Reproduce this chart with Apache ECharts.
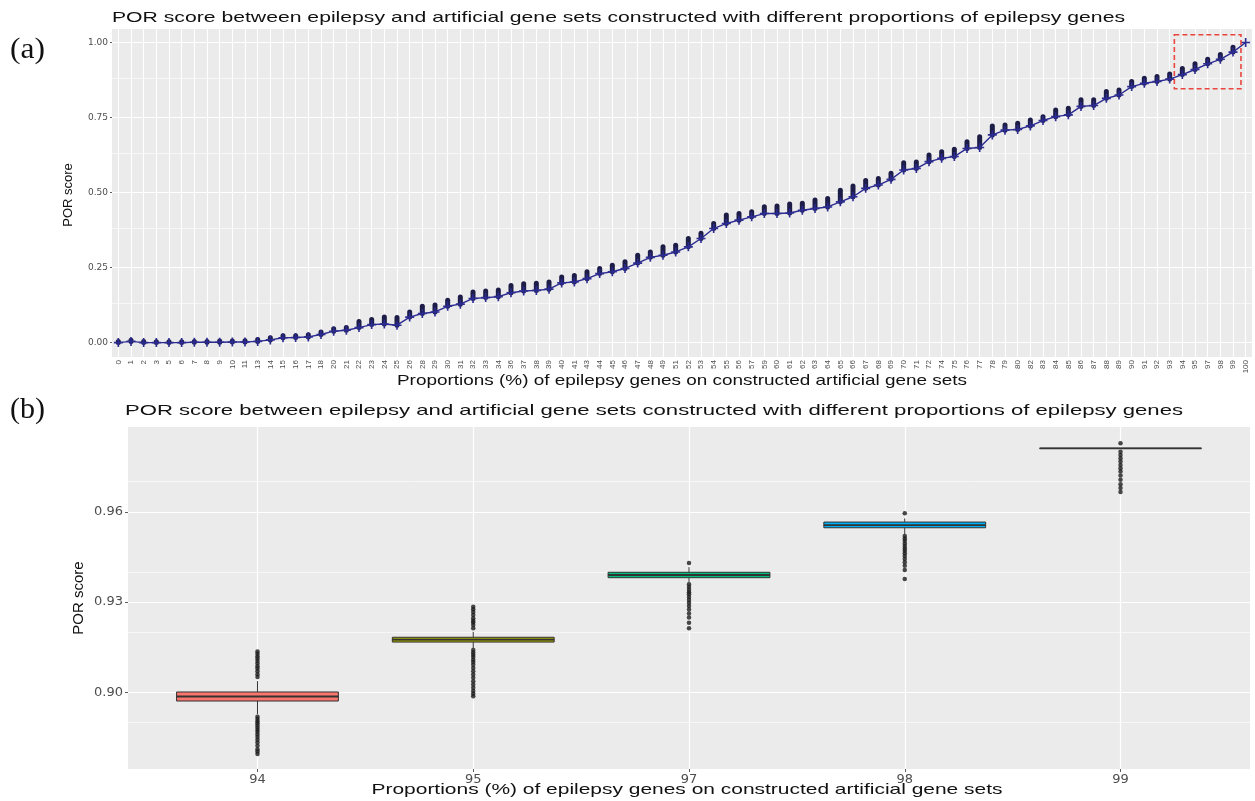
<!DOCTYPE html>
<html>
<head>
<meta charset="utf-8">
<title>POR score between epilepsy and artificial gene sets</title>
<script src="https://cdn.jsdelivr.net/npm/echarts@6.0.0/dist/echarts.min.js"></script>
<style>
  html, body { margin: 0; padding: 0; background: #ffffff; }
  #chart { width: 1255px; height: 801px; }
</style>
</head>
<body>
<div id="chart"></div>
<script>
// ---------- Panel (a): every proportion of epilepsy genes ----------
const proportions = ['0','1','2','3','5','6','7','8','9','10',
  '11','13','14','15','16','17','18','20','21','22',
  '23','24','25','26','28','29','30','31','32','33',
  '34','36','37','38','39','40','41','43','44','45',
  '46','47','48','49','51','52','53','54','55','56',
  '57','59','60','61','62','63','64','65','66','67',
  '68','69','70','71','72','74','75','76','77','78',
  '79','80','82','83','84','85','86','87','88','89',
  '90','91','92','93','94','95','97','98','99','100'];

// median POR score of each proportion (line with + markers)
const medianPOR = [0.000,0.004,0.000,0.000,0.000,0.000,0.001,0.001,0.001,0.002,
  0.002,0.004,0.009,0.016,0.017,0.019,0.027,0.038,0.041,0.050,
  0.060,0.062,0.058,0.085,0.097,0.102,0.121,0.128,0.147,0.150,
  0.153,0.166,0.172,0.174,0.178,0.199,0.202,0.213,0.230,0.236,
  0.247,0.265,0.284,0.291,0.302,0.319,0.347,0.380,0.397,0.408,
  0.419,0.430,0.430,0.432,0.441,0.447,0.452,0.469,0.486,0.514,
  0.525,0.544,0.575,0.580,0.603,0.614,0.620,0.647,0.650,0.692,
  0.708,0.710,0.722,0.740,0.753,0.759,0.787,0.790,0.814,0.825,
  0.853,0.864,0.870,0.878,0.893,0.910,0.929,0.944,0.968,1.000];

// highest outlying POR score of each proportion (top of the dark column)
const topPOR = [0.004,0.008,0.004,0.003,0.003,0.003,0.004,0.004,0.005,0.005,
  0.006,0.010,0.016,0.023,0.023,0.026,0.035,0.046,0.050,0.070,
  0.077,0.085,0.084,0.102,0.121,0.125,0.141,0.152,0.169,0.172,
  0.175,0.190,0.196,0.198,0.202,0.219,0.224,0.236,0.247,0.258,
  0.269,0.291,0.302,0.319,0.324,0.347,0.364,0.397,0.425,0.430,
  0.436,0.453,0.455,0.462,0.464,0.475,0.480,0.508,0.522,0.540,
  0.547,0.564,0.599,0.602,0.625,0.636,0.644,0.669,0.686,0.722,
  0.725,0.731,0.742,0.753,0.775,0.781,0.809,0.809,0.837,0.842,
  0.870,0.881,0.887,0.895,0.913,0.929,0.944,0.960,0.984,1.000];

const yTicksA = [0, 0.25, 0.5, 0.75, 1];
const yMinorA = [0.125, 0.375, 0.625, 0.875];

// ---------- Panel (b): close-up of the highest proportions ----------
const zoomProportions = ['94', '95', '97', '98', '99'];
// [lower whisker, Q1, median, Q3, upper whisker]
const boxStats = [
  [0.8927, 0.8971, 0.8986, 0.9001, 0.9037],
  [0.9147, 0.9167, 0.9175, 0.9183, 0.9201],
  [0.9366, 0.9381, 0.9390, 0.9399, 0.9416],
  [0.9526, 0.9547, 0.9556, 0.9566, 0.9578],
  [0.9811, 0.9811, 0.9811, 0.9811, 0.9811]
];
const outliers94 = [0.9136,0.9128,0.9120,0.9112,0.9104,0.9096,0.9087,0.9079,0.9070,0.9060,0.9051,
  0.8919,0.8911,0.8904,0.8897,0.8890,0.8882,0.8875,0.8868,0.8860,0.8851,0.8842,0.8833,0.8822,0.8811,0.8803,0.8795];
const outliers95 = [0.9284,0.9276,0.9267,0.9257,0.9246,0.9238,0.9232,0.9224,0.9213,
  0.9141,0.9132,0.9125,0.9117,0.9108,0.9101,0.9092,0.9081,0.9070,0.9059,0.9048,0.9037,0.9026,0.9015,0.9004,0.8995,0.8987];
const outliers97 = [0.9430,
  0.9359,0.9350,0.9341,0.9333,0.9326,0.9317,0.9308,0.9298,0.9287,0.9275,0.9262,0.9249,0.9231,0.9213];
const outliers98 = [0.9595,
  0.9520,0.9511,0.9504,0.9495,0.9486,0.9478,0.9471,0.9462,0.9453,0.9443,0.9432,0.9421,0.9407,0.9377];
const outliers99 = [0.9828,
  0.9800,0.9789,0.9778,0.9767,0.9756,0.9745,0.9734,0.9721,0.9707,0.9692,0.9679,0.9666];
const outliersB = [outliers94, outliers95, outliers97, outliers98, outliers99];

const yTicksB = [0.90, 0.93, 0.96];
const yMinorB = [0.885, 0.915, 0.945, 0.975];

// highlighted range of panel (a) that panel (b) enlarges
const focusFrom = '94', focusTo = '99';
const focusTop = 1.026, focusBottom = 0.846;

// ---------- texts ----------
const chartTitle = 'POR score between epilepsy and artificial gene sets constructed with different proportions of epilepsy genes';
const xName = 'Proportions (%) of epilepsy genes on constructed artificial gene sets';
const yName = 'POR score';

// ---------- styles ----------
const boxColors = ['#F8766D', '#A3A500', '#00BF7D', '#00B0F6', '#E76BF3'];
const panelBg = '#EBEBEB';
const tickColor = '#4D4D4D';
const sans = '"Liberation Sans", Arial, Helvetica, sans-serif';
const serif = '"Liberation Serif", "Times New Roman", serif';
const plusSymbol = 'path://M0,4.1H10V5.9H0Z M4.1,0H5.9V10H4.1Z';

const chart = echarts.init(document.getElementById('chart'), null, { renderer: 'canvas' });

// white grid lines drawn through the axes' own scales
function gridLines(values, key, width) {
  return values.map(v => ({ [key]: v, lineStyle: { width: width } }));
}
function lineLayer(xi, yi, data) {
  return {
    type: 'line', xAxisIndex: xi, yAxisIndex: yi, data: [], silent: true, z: 1,
    markLine: {
      silent: true, z: 1, symbol: ['none', 'none'], label: { show: false },
      animation: false, emphasis: { disabled: true },
      lineStyle: { color: '#ffffff', type: 'solid', width: 1 },
      data: data
    }
  };
}

// text stretched horizontally to a given width
const measureCtx = document.createElement('canvas').getContext('2d');
function textEl(id, text, font, x, y, align, width, rotation) {
  measureCtx.font = font;
  const sx = width ? width / measureCtx.measureText(text).width : 1;
  return {
    id: id, type: 'text', x: x, y: y, rotation: rotation || 0,
    scaleX: sx, scaleY: 1, silent: true, z: 10,
    style: {
      text: text, font: font, fill: '#111111',
      align: align, textAlign: align, verticalAlign: 'middle', textVerticalAlign: 'middle'
    }
  };
}

const scatterB = [];
outliersB.forEach((list, i) => list.forEach(v => scatterB.push([zoomProportions[i], v])));

const option = {
  animation: false,
  backgroundColor: '#ffffff',
  grid: [
    { left: 112, right: 3, top: 29, height: 328, show: true, backgroundColor: panelBg, borderWidth: 0, outerBoundsMode: 'none' },
    { left: 128, right: 5, top: 427, height: 342, show: true, backgroundColor: panelBg, borderWidth: 0, outerBoundsMode: 'none' },
    { left: 149.6, right: 26.6, top: 427, height: 342, show: false, outerBoundsMode: 'none' }
  ],
  xAxis: [
    {
      gridIndex: 0, type: 'category', data: proportions, boundaryGap: true,
      axisLine: { show: false },
      axisTick: { show: true, interval: 0, alignWithLabel: true, length: 2, lineStyle: { color: '#333333', width: 0.8 } },
      axisLabel: { interval: 0, rotate: 90, fontSize: 8, fontFamily: sans, color: tickColor, margin: 3 },
      splitLine: { show: false }
    },
    { gridIndex: 1, type: 'value', min: 0, max: 1, show: false },
    {
      gridIndex: 2, type: 'category', data: zoomProportions, boundaryGap: true,
      axisLine: { show: false },
      axisTick: { show: true, alignWithLabel: true, length: 3, lineStyle: { color: '#333333', width: 0.8 } },
      axisLabel: { fontSize: 13, fontFamily: '"DejaVu Sans", sans-serif', color: tickColor, margin: 4 },
      splitLine: { show: false }
    }
  ],
  yAxis: [
    {
      gridIndex: 0, type: 'value', min: -0.048, max: 1.045,
      axisLine: { show: false },
      axisTick: { show: true, length: 2, customValues: yTicksA, lineStyle: { color: '#333333', width: 0.8 } },
      axisLabel: { customValues: yTicksA, formatter: v => v.toFixed(2), fontSize: 9, fontFamily: '"DejaVu Sans", sans-serif', color: tickColor, margin: 4 },
      splitLine: { show: false }
    },
    {
      gridIndex: 1, type: 'value', min: 0.8745, max: 0.9882,
      axisLine: { show: false },
      axisTick: { show: true, length: 3, customValues: yTicksB, lineStyle: { color: '#333333', width: 0.8 } },
      axisLabel: { customValues: yTicksB, formatter: v => v.toFixed(2), fontSize: 13, fontFamily: '"DejaVu Sans", sans-serif', color: tickColor, margin: 5 },
      splitLine: { show: false }
    },
    { gridIndex: 2, type: 'value', min: 0.8745, max: 0.9882, show: false }
  ],
  series: [
    // panel (a) grid
    lineLayer(0, 0, [].concat(
      gridLines(yMinorA, 'yAxis', 0.6),
      gridLines(yTicksA, 'yAxis', 1.2),
      gridLines(proportions, 'xAxis', 1.1)
    )),
    // panel (b) grid
    lineLayer(1, 1, [].concat(
      gridLines(yMinorB, 'yAxis', 0.6),
      gridLines(yTicksB, 'yAxis', 1.2)
    )),
    lineLayer(2, 2, gridLines(zoomProportions, 'xAxis', 1.2)),

    // panel (a): spread of the scores at each proportion
    {
      type: 'custom', xAxisIndex: 0, yAxisIndex: 0, z: 3, silent: true,
      data: proportions.map((p, i) => [i, medianPOR[i], topPOR[i]]),
      encode: { x: 0, y: [1, 2] },
      renderItem: function (params, api) {
        const i = api.value(0);
        const p1 = api.coord([i, api.value(1)]);
        const p2 = api.coord([i, api.value(2)]);
        return {
          type: 'line',
          shape: { x1: p1[0], y1: p1[1], x2: p2[0], y2: p2[1] },
          style: { stroke: '#1D1D48', lineWidth: 5, lineCap: 'round' }
        };
      }
    },
    // panel (a): medians joined by a line
    {
      type: 'line', xAxisIndex: 0, yAxisIndex: 0, z: 4, silent: true,
      data: medianPOR,
      symbol: plusSymbol, symbolSize: 9, showAllSymbol: true,
      itemStyle: { color: '#2B2B92' },
      lineStyle: { color: '#2B2B92', width: 1.4 }
    },

    // panel (b): box plots
    {
      type: 'custom', xAxisIndex: 2, yAxisIndex: 2, z: 3, silent: true,
      data: zoomProportions.map((p, i) => [i].concat(boxStats[i])),
      encode: { x: 0, y: [1, 2, 3, 4, 5] },
      renderItem: function (params, api) {
        const i = api.value(0);
        const half = api.size([1, 0])[0] * 0.75 / 2;
        const lo = api.coord([i, api.value(1)]);
        const cx = lo[0];
        const yQ1 = api.coord([i, api.value(2)])[1];
        const yMed = api.coord([i, api.value(3)])[1];
        const yQ3 = api.coord([i, api.value(4)])[1];
        const yHi = api.coord([i, api.value(5)])[1];
        return {
          type: 'group',
          children: [
            { type: 'line', shape: { x1: cx, y1: lo[1], x2: cx, y2: yQ1 }, style: { stroke: '#333333', lineWidth: 1 } },
            { type: 'line', shape: { x1: cx, y1: yQ3, x2: cx, y2: yHi }, style: { stroke: '#333333', lineWidth: 1 } },
            { type: 'rect', shape: { x: cx - half, y: yQ3, width: 2 * half, height: yQ1 - yQ3 },
              style: { fill: boxColors[i], stroke: '#333333', lineWidth: 1 } },
            { type: 'line', shape: { x1: cx - half, y1: yMed, x2: cx + half, y2: yMed }, style: { stroke: '#333333', lineWidth: 1.8 } }
          ]
        };
      }
    },
    // panel (b): outliers
    {
      type: 'scatter', xAxisIndex: 2, yAxisIndex: 2, z: 4, silent: true,
      data: scatterB, symbol: 'circle', symbolSize: 4.5,
      itemStyle: { color: '#1A1A1A' }
    }
  ],
  graphic: {
    elements: [
      textEl('tagA', '(a)', '30px ' + serif, 10, 50, 'left', 35),
      textEl('titleA', chartTitle, '15px ' + sans, 112, 18, 'left', 1013),
      textEl('xNameA', xName, '15px ' + sans, 682, 381, 'center', 570),
      textEl('yNameA', yName, '13px ' + sans, 68, 195, 'center', 0, Math.PI / 2),
      textEl('tagB', '(b)', '30px ' + serif, 10, 410, 'left', 35),
      textEl('titleB', chartTitle, '15px ' + sans, 125, 411, 'left', 1058),
      textEl('xNameB', xName, '15px ' + sans, 687, 790, 'center', 631),
      textEl('yNameB', yName, '15px ' + sans, 79, 598, 'center', 0, Math.PI / 2)
    ]
  }
};

chart.setOption(option);

// dashed frame around the proportions enlarged in panel (b)
const band = chart.convertToPixel({ xAxisIndex: 0 }, '1') - chart.convertToPixel({ xAxisIndex: 0 }, '0');
const pFrom = chart.convertToPixel({ gridIndex: 0 }, [focusFrom, focusTop]);
const pTo = chart.convertToPixel({ gridIndex: 0 }, [focusTo, focusBottom]);
const pad = band * 0.63;
chart.setOption({
  graphic: {
    elements: [{
      id: 'focusFrame', type: 'rect', silent: true, z: 9,
      shape: { x: pFrom[0] - pad, y: pFrom[1], width: pTo[0] - pFrom[0] + 2 * pad, height: pTo[1] - pFrom[1] },
      style: { fill: 'none', stroke: '#E8473F', lineWidth: 1.6, lineDash: [5, 3] }
    }]
  }
});
</script>
</body>
</html>
